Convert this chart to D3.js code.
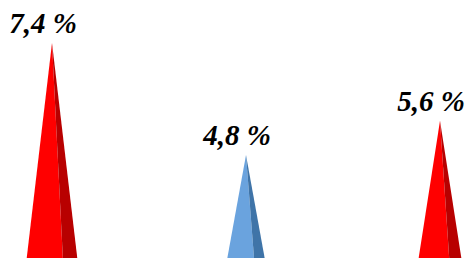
<!DOCTYPE html>
<html>
<head>
<meta charset="utf-8">
<script src="https://cdn.jsdelivr.net/npm/d3@7"></script>
<style>
  html, body { margin: 0; padding: 0; background: #fff; overflow: hidden; }
</style>
</head>
<body>
<svg id="drawing_region"></svg>
<script>
// data
const categories = ["a", "b", "c"];
const values = [7.4, 4.8, 5.6];
const labels = ["7,4 %", "4,8 %", "5,6 %"];
const lightColors = ["#ff0000", "#6aa3de", "#ff0000"];
const darkColors = ["#b80000", "#3f74a8", "#b80000"];

const config = {
    parent: '#drawing_region',
    width: 467,
    height: 258,
    baseY: 362,      // baseline sits below the visible area
    coneWidth: 75
};

const svg = d3.select(config.parent)
    .attr('width', config.width)
    .attr('height', config.height);

// x: one cone per category
const xScale = d3.scalePoint()
    .domain(categories)
    .range([52, 440]);

// y: value -> apex height
const yScale = d3.scaleLinear()
    .domain([0, 8])
    .range([config.baseY, config.baseY - 8 * 43.1]);

const half = config.coneWidth / 2;
const split = 0.43; // where the shaded side starts

const cones = svg.selectAll('g.cone')
    .data(categories)
    .join('g')
    .attr('class', 'cone');

// lit front face
cones.append('path')
    .attr('fill', (d, i) => lightColors[i])
    .attr('d', (d, i) => {
        const cx = xScale(d), top = yScale(values[i]);
        return d3.line()([[cx, top], [cx - half, config.baseY], [cx + half * split, config.baseY]]) + 'Z';
    });

// shaded right side
cones.append('path')
    .attr('fill', (d, i) => darkColors[i])
    .attr('d', (d, i) => {
        const cx = xScale(d), top = yScale(values[i]);
        return d3.line()([[cx, top], [cx + half * split, config.baseY], [cx + half, config.baseY]]) + 'Z';
    });

// value labels
cones.append('text')
    .attr('x', d => xScale(d) - 9)
    .attr('y', (d, i) => yScale(values[i]) - 10)
    .attr('text-anchor', 'middle')
    .attr('font-family', '"Liberation Serif", "Times New Roman", serif')
    .attr('font-size', '29px')
    .attr('font-weight', 'bold')
    .attr('font-style', 'italic')
    .attr('fill', '#000')
    .text((d, i) => labels[i]);
</script>
</body>
</html>
